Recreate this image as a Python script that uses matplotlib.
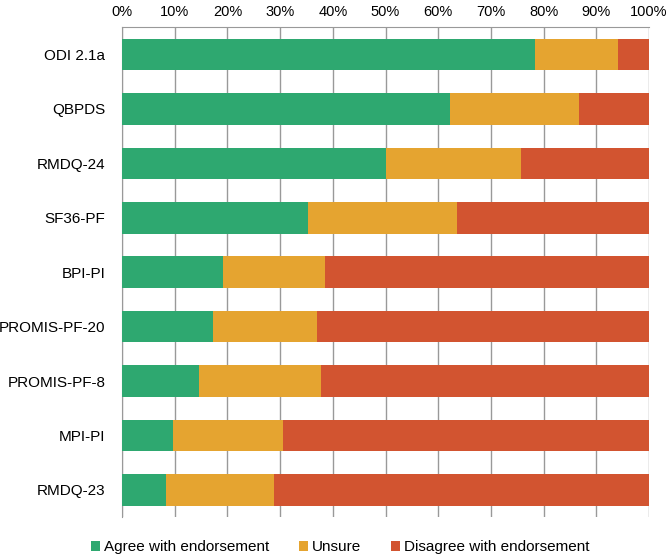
import matplotlib
matplotlib.use("Agg")
import matplotlib.pyplot as plt
import numpy as np

plt.rcParams['font.family'] = ['Liberation Sans', 'DejaVu Sans']

# Data (percent of respondents)
instruments = ["ODI 2.1a", "QBPDS", "RMDQ-24", "SF36-PF", "BPI-PI",
               "PROMIS-PF-20", "PROMIS-PF-8", "MPI-PI", "RMDQ-23"]
agree = [78.3, 62.2, 50.0, 35.3, 19.2, 17.2, 14.6, 9.7, 8.3]
unsure = [15.8, 24.5, 25.7, 28.2, 19.4, 19.8, 23.2, 20.8, 20.6]
disagree = [100 - a - u for a, u in zip(agree, unsure)]

labels = ["Agree with endorsement", "Unsure", "Disagree with endorsement"]
colors = ["#2EA870", "#E5A430", "#D25430"]

fig = plt.figure(figsize=(6.67, 5.56), dpi=100)
ax = fig.add_axes([0.183, 0.070, 0.790, 0.881])

y = np.arange(len(instruments))
left = np.zeros(len(instruments))
for vals, lab, col in zip([agree, unsure, disagree], labels, colors):
    ax.barh(y, vals, left=left, height=0.58, color=col, label=lab, zorder=3)
    left += np.array(vals)

ax.set_xlim(0, 100)
ax.set_ylim(len(instruments) - 0.5, -0.5)
ax.set_yticks(y)
ax.set_yticklabels(instruments, fontsize=11)
ax.set_xticks(np.arange(0, 101, 10))
ax.set_xticklabels([f"{v}%" for v in range(0, 101, 10)], fontsize=10.5)
ax.tick_params(axis='x', length=0, pad=6, top=False, bottom=False,
               labeltop=True, labelbottom=False)
ax.tick_params(axis='y', length=0, pad=12)

ax.grid(axis='x', color='#999999', linewidth=1, zorder=0)
for s in ['right', 'bottom']:
    ax.spines[s].set_visible(False)
ax.spines['top'].set_color('#999999')
ax.spines['left'].set_color('#999999')

fig.legend(*ax.get_legend_handles_labels(), loc='lower center', ncol=3,
           bbox_to_anchor=(0.51, -0.022), frameon=False, fontsize=11,
           handlelength=0.55, handleheight=0.55, handletextpad=0.25,
           columnspacing=2.0)

fig.savefig("out.png", dpi=100)
